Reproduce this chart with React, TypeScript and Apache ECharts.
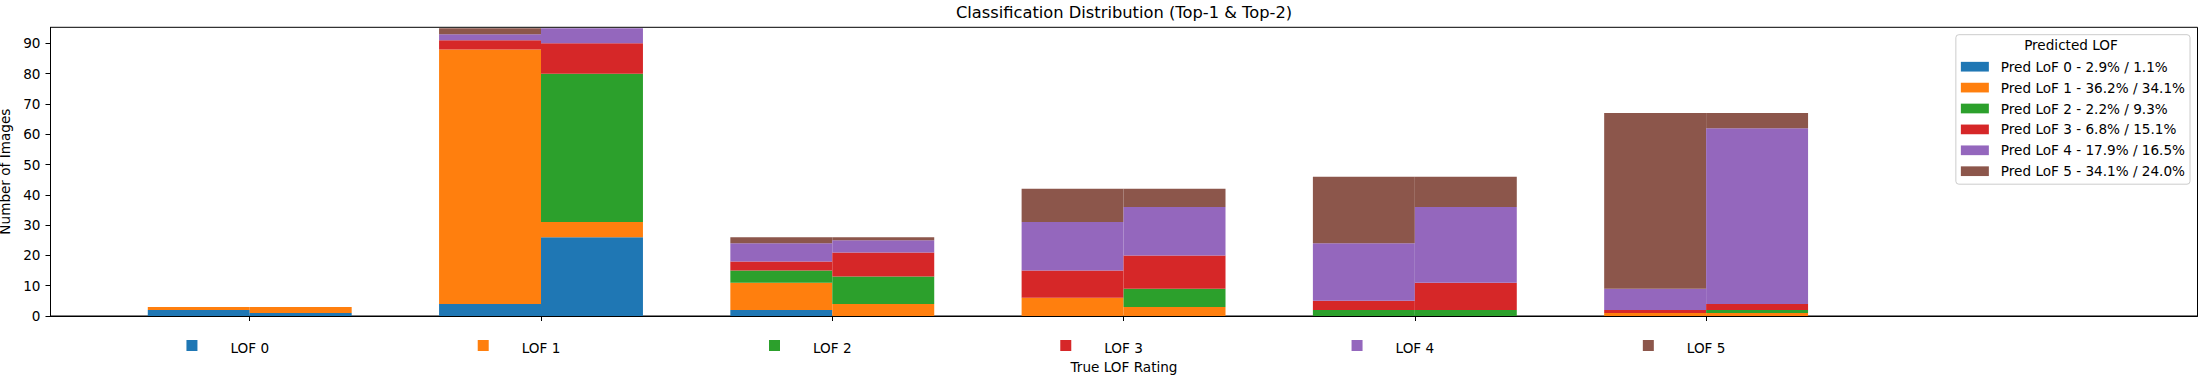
import React, { useEffect, useRef } from "react";
import * as echarts from "echarts";

// ---------- data ----------
const categories = ["LOF 0", "LOF 1", "LOF 2", "LOF 3", "LOF 4", "LOF 5"];
const predNames = ["Pred LoF 0", "Pred LoF 1", "Pred LoF 2", "Pred LoF 3", "Pred LoF 4", "Pred LoF 5"];
const top1Pct = ["2.9%", "36.2%", "2.2%", "6.8%", "17.9%", "34.1%"];
const top2Pct = ["1.1%", "34.1%", "9.3%", "15.1%", "16.5%", "24.0%"];

// Top-1 prediction counts per true LOF category
const top1Pred0 = [2, 4, 2, 0, 0, 0];
const top1Pred1 = [1, 84, 9, 6, 0, 1];
const top1Pred2 = [0, 0, 4, 0, 2, 0];
const top1Pred3 = [0, 3, 3, 9, 3, 1];
const top1Pred4 = [0, 2, 6, 16, 19, 7];
const top1Pred5 = [0, 2, 2, 11, 22, 58];

// Top-2 prediction counts per true LOF category
const top2Pred0 = [1, 26, 0, 0, 0, 0];
const top2Pred1 = [2, 5, 4, 3, 0, 1];
const top2Pred2 = [0, 49, 9, 6, 2, 1];
const top2Pred3 = [0, 10, 8, 11, 9, 2];
const top2Pred4 = [0, 5, 4, 16, 25, 58];
const top2Pred5 = [0, 0, 1, 6, 10, 5];

const yTicks = [0, 10, 20, 30, 40, 50, 60, 70, 80, 90];
const xTicks = [0, 1, 2, 3, 4, 5];

// ---------- layout / style ----------
const COLORS = ["#1f77b4", "#ff7f0e", "#2ca02c", "#d62728", "#9467bd", "#8c564b"];
const FONT = "DejaVu Sans";
const FS = 13.6;
const W = 2202;
const H = 375;
const GRID_LEFT = 50.5;
const GRID_RIGHT = 4.5;
const GRID_TOP = 27.3;
const GRID_BOTTOM = 59;
const Y_MAX = 95.3;
const X_MIN = -0.684;
const X_MAX = 6.687;
const BAR_UNITS = 0.35;

export default function App() {
  const ref = useRef<HTMLDivElement>(null);

  useEffect(() => {
    document.body.style.margin = "0";
    if (!ref.current) return;
    const chart = echarts.init(ref.current, null, { renderer: "svg" });

    const top1 = [top1Pred0, top1Pred1, top1Pred2, top1Pred3, top1Pred4, top1Pred5];
    const top2 = [top2Pred0, top2Pred1, top2Pred2, top2Pred3, top2Pred4, top2Pred5];
    const legendNames = predNames.map((n, k) => `${n} - ${top1Pct[k]} / ${top2Pct[k]}`);

    const gridW = W - GRID_LEFT - GRID_RIGHT;
    const barWidthPx = (BAR_UNITS * gridW) / (X_MAX - X_MIN);

    const series: any[] = [];
    const addGroup = (groups: number[][], axisIndex: number, stack: string, shift: number) => {
      groups.forEach((vals, k) => {
        series.push({
          type: "bar",
          name: legendNames[k],
          xAxisIndex: axisIndex,
          yAxisIndex: 0,
          stack,
          barWidth: barWidthPx,
          itemStyle: { color: COLORS[k] },
          emphasis: { disabled: true },
          // value first so that stacking works on the count dimension
          dimensions: ["count", "pos"],
          encode: { x: "pos", y: "count" },
          data: vals.map((v, i) => [v, i + shift]),
        });
      });
    };
    addGroup(top1, 0, "top1", -BAR_UNITS / 2);
    addGroup(top2, 1, "top2", BAR_UNITS / 2);

    const rich: any = {
      g: { width: 33 },
      p: { width: 44 },
      t: { fontSize: FS, fontFamily: FONT, color: "#000", lineHeight: 16 },
    };
    COLORS.forEach((c, k) => {
      rich["sq" + k] = { width: 11, height: 11, backgroundColor: c, verticalAlign: "top" };
    });

    const option: any = {
      animation: false,
      backgroundColor: "#fff",
      title: {
        text: "Classification Distribution (Top-1 & Top-2)",
        left: GRID_LEFT + gridW / 2,
        top: 4,
        textAlign: "center",
        padding: 0,
        textStyle: { fontSize: 16.3, fontWeight: "normal", fontFamily: FONT, color: "#000" },
      },
      grid: {
        left: GRID_LEFT,
        right: GRID_RIGHT,
        top: GRID_TOP,
        bottom: GRID_BOTTOM,
        show: true,
        borderColor: "#000",
        borderWidth: 1,
        backgroundColor: "transparent",
        containLabel: false,
        outerBoundsMode: "none",
      },
      legend: {
        orient: "vertical",
        right: 12,
        top: 34.7,
        padding: [25, 5, 6, 5],
        itemWidth: 28,
        itemHeight: 9.7,
        itemGap: 6.9,
        icon: "rect",
        selectedMode: false,
        data: legendNames,
        backgroundColor: "rgba(255,255,255,0.8)",
        borderColor: "#cccccc",
        borderWidth: 1,
        borderRadius: 3,
        textStyle: {
          fontSize: FS,
          fontFamily: FONT,
          color: "#000",
          lineHeight: 14,
          padding: [0, 0, 0, 7],
        },
      },
      graphic: [
        {
          type: "text",
          x: 2071,
          y: 45,
          z: 100,
          style: {
            text: "Predicted LOF",
            fontSize: FS,
            fontFamily: FONT,
            fill: "#000",
            align: "center",
            verticalAlign: "middle",
            textAlign: "center",
            textVerticalAlign: "middle",
          },
        },
      ],
      xAxis: [
        {
          type: "value",
          min: X_MIN,
          max: X_MAX,
          position: "bottom",
          axisLine: { show: true, onZero: false, lineStyle: { color: "#000", width: 1 } },
          splitLine: { show: false },
          axisTick: { show: true, customValues: xTicks, length: 5, lineStyle: { color: "#000", width: 1 } },
          axisLabel: {
            customValues: xTicks,
            margin: 24,
            formatter: (v: number) => {
              const i = Math.round(v);
              return `{sq${i}|}{g|}{t|${categories[i]}}{p|}`;
            },
            rich,
          },
          name: "True LOF Rating",
          nameLocation: "middle",
          nameGap: 43,
          nameTextStyle: { fontSize: FS, fontFamily: FONT, color: "#000" },
        },
        {
          type: "value",
          min: X_MIN,
          max: X_MAX,
          position: "top",
          show: false,
        },
      ],
      yAxis: [
        {
          type: "value",
          min: 0,
          max: Y_MAX,
          axisLine: { show: true, onZero: false, lineStyle: { color: "#000", width: 1 } },
          splitLine: { show: false },
          axisTick: { show: true, customValues: yTicks, length: 5, lineStyle: { color: "#000", width: 1 } },
          axisLabel: {
            customValues: yTicks,
            margin: 10,
            fontSize: FS,
            fontFamily: FONT,
            color: "#000",
          },
          name: "Number of Images",
          nameLocation: "middle",
          nameGap: 29,
          nameTextStyle: { fontSize: FS, fontFamily: FONT, color: "#000" },
        },
      ],
      series,
    };

    chart.setOption(option);
    return () => chart.dispose();
  }, []);

  return <div ref={ref} style={{ width: W, height: H, position: "absolute", left: 0, top: 0 }} />;
}
